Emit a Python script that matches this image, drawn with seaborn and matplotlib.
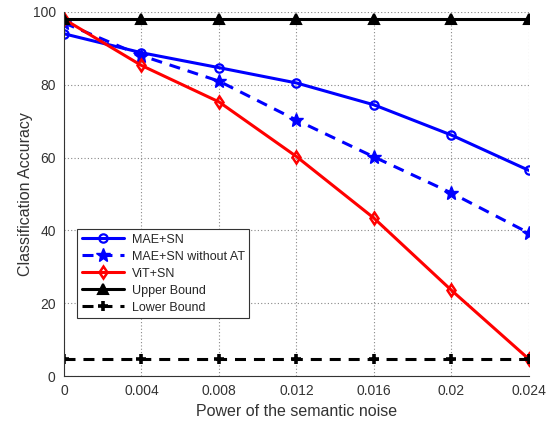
import matplotlib
matplotlib.use("Agg")
import matplotlib.pyplot as plt
import seaborn as sns
import pandas as pd

noise = [0, 0.004, 0.008, 0.012, 0.016, 0.02, 0.024]
mae_sn = [94.0, 88.8, 84.7, 80.5, 74.5, 66.2, 56.5]
mae_sn_noat = [97.0, 88.0, 81.0, 70.3, 60.2, 50.3, 39.3]
vit_sn = [98.0, 85.3, 75.3, 60.3, 43.4, 23.6, 4.7]
upper = [98.0] * 7
lower = [4.7] * 7
labels = ["MAE+SN", "MAE+SN without AT", "ViT+SN", "Upper Bound", "Lower Bound"]
xticklabels = ["0", "0.004", "0.008", "0.012", "0.016", "0.02", "0.024"]

sns.set_style("white")
plt.rcParams['font.family'] = ['Liberation Sans', 'DejaVu Sans']

fig = plt.figure(figsize=(5.52, 4.26), dpi=100)
ax = fig.add_axes([0.116, 0.117, 0.842, 0.855])

dash = (0, (3.6, 2.6))
series = [
    (mae_sn, "blue", "-", "o", 6, "none", 1.6),
    (mae_sn_noat, "blue", dash, "*", 10, "blue", 1.0),
    (vit_sn, "red", "-", "d", 6.5, "none", 1.8),
    (upper, "black", "-", "^", 6.5, "black", 1.5),
    (lower, "black", dash, "+", 7, "black", 2.6),
]
for (vals, c, ls, m, ms, mfc, mew), lab in zip(series, labels):
    df = pd.DataFrame({"x": noise, "y": vals})
    sns.lineplot(data=df, x="x", y="y", ax=ax, color=c, linestyle=ls, linewidth=2.2,
                 marker=m, markersize=ms, markerfacecolor=mfc, markeredgecolor=c,
                 markeredgewidth=mew, label=lab)

ax.set_xlim(0, 0.024)
ax.set_ylim(0, 100)
ax.set_xticks(noise)
ax.set_xticklabels(xticklabels)
ax.set_yticks([0, 20, 40, 60, 80, 100])
ax.grid(True, linestyle=(0, (1, 2)), color="#888888", linewidth=0.8)
for s in ["top", "right"]:
    ax.spines[s].set_visible(False)
for s in ["left", "bottom"]:
    ax.spines[s].set_color("#333333")
    ax.spines[s].set_linewidth(0.8)
ax.tick_params(direction="in", length=3, pad=6, labelsize=10, colors="#333333", labelcolor="#333333")
ax.set_xlabel("Power of the semantic noise", fontsize=11.5, color="#333333", labelpad=4)
ax.set_ylabel("Classification Accuracy", fontsize=11.5, color="#333333", labelpad=0)

leg = ax.legend(loc="upper left", bbox_to_anchor=(0.015, 0.42), fontsize=9,
                frameon=True, fancybox=False, edgecolor="#333333", framealpha=1,
                handlelength=3.4, borderpad=0.35, labelspacing=0.4, handletextpad=0.6)
leg.get_frame().set_linewidth(0.8)

fig.savefig("out.png", dpi=100)
